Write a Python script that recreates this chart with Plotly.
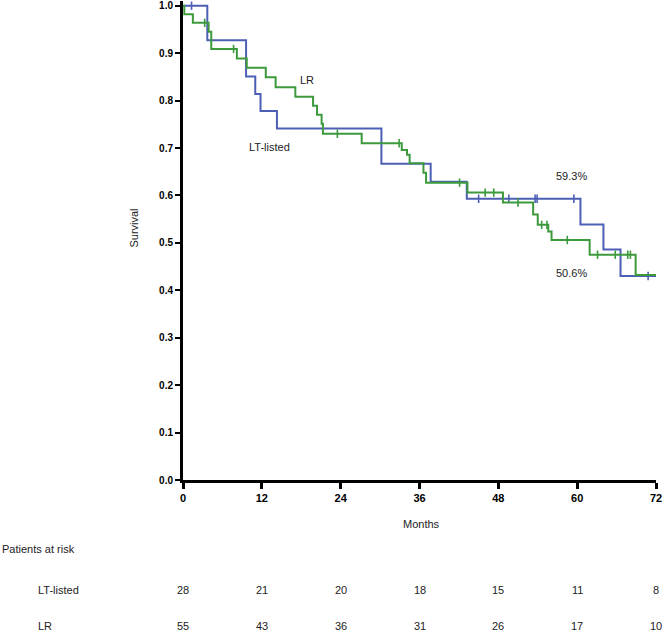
import numpy as np
import plotly.graph_objects as go

# ---- data ----
blue_t = [0, 3.7, 9.6, 11.0, 11.8, 14.3, 30.2, 37.7, 43.2, 60.5, 64.0, 66.6, 72]
blue_s = [1.0, 0.927, 0.851, 0.814, 0.778, 0.741, 0.667, 0.629, 0.593, 0.539, 0.486, 0.430, 0.430]
blue_censor = [1.3, 45.0, 49.6, 53.6, 53.9, 59.5, 70.8]

green_t = [0, 0.2, 1.5, 3.9, 4.3, 8.2, 9.7, 12.6, 14.1, 17.1, 19.8, 20.4, 21.1, 21.3, 27.2,
           33.3, 34.1, 34.5, 36.6, 37.0, 43.3, 48.7, 53.3, 54.0, 55.6, 56.1, 61.9, 68.9, 72]
green_s = [1.0, 0.982, 0.964, 0.945, 0.909, 0.889, 0.869, 0.849, 0.828, 0.808, 0.789, 0.770,
           0.751, 0.730, 0.710, 0.696, 0.686, 0.668, 0.648, 0.627, 0.606, 0.585, 0.560, 0.538,
           0.524, 0.506, 0.475, 0.432, 0.432]
green_censor = [3.3, 7.7, 23.5, 32.9, 42.1, 46.0, 47.3, 51.0, 54.6, 55.4, 58.5, 63.1, 65.8, 67.7, 68.1]

x_ticks = [0, 12, 24, 36, 48, 60, 72]
y_ticks = [0.0, 0.1, 0.2, 0.3, 0.4, 0.5, 0.6, 0.7, 0.8, 0.9, 1.0]
risk_lt = [28, 21, 20, 18, 15, 11, 8]
risk_lr = [55, 43, 36, 31, 26, 17, 10]

BLUE = "#4C5FB5"
GREEN = "#3C9A3C"
FONT = "Liberation Sans"


def step_at(ts, ss, x):
    idx = np.searchsorted(np.array(ts), np.array(x), side="right") - 1
    return list(np.array(ss)[idx])


fig = go.Figure()
for t, s, c, col, name in [(blue_t, blue_s, blue_censor, BLUE, "LT-listed"),
                           (green_t, green_s, green_censor, GREEN, "LR")]:
    fig.add_trace(go.Scatter(x=t, y=s, mode="lines", line=dict(color=col, width=2, shape="hv"),
                             name=name, showlegend=False))
    fig.add_trace(go.Scatter(x=c, y=step_at(t, s, c), mode="markers",
                             marker=dict(symbol="line-ns", size=6, line=dict(color=col, width=1.6)),
                             showlegend=False))

tf = dict(family=FONT, size=11, color="#222")
ann = []
ann.append(dict(x=18.9, y=0.844, xref="x", yref="y", text="LR", showarrow=False, font=tf))
ann.append(dict(x=13.1, y=0.703, xref="x", yref="y", text="LT-listed", showarrow=False, font=tf))
ann.append(dict(x=59.2, y=0.640, xref="x", yref="y", text="59.3%", showarrow=False, font=tf))
ann.append(dict(x=59.2, y=0.436, xref="x", yref="y", text="50.6%", showarrow=False, font=tf))
ann.append(dict(x=-0.1036, y=0.527, xref="paper", yref="paper", text="Survival", textangle=-90,
                xanchor="center", yanchor="middle", showarrow=False, font=tf))
ann.append(dict(x=36.3 / 72, y=-0.0919, xref="paper", yref="paper", text="Months",
                xanchor="center", yanchor="middle", showarrow=False, font=tf))
ann.append(dict(x=-0.387, y=-0.144, xref="paper", yref="paper", text="Patients at risk",
                xanchor="left", yanchor="middle", showarrow=False, font=tf))
ann.append(dict(x=-0.310, y=-0.2296, xref="paper", yref="paper", text="LT-listed",
                xanchor="left", yanchor="middle", showarrow=False, font=tf))
ann.append(dict(x=-0.310, y=-0.3048, xref="paper", yref="paper", text="LR",
                xanchor="left", yanchor="middle", showarrow=False, font=tf))
for xt, a, b in zip(x_ticks, risk_lt, risk_lr):
    ann.append(dict(x=xt / 72, y=-0.2296, xref="paper", yref="paper", text=str(a),
                    xanchor="center", yanchor="middle", showarrow=False, font=tf))
    ann.append(dict(x=xt / 72, y=-0.3048, xref="paper", yref="paper", text=str(b),
                    xanchor="center", yanchor="middle", showarrow=False, font=tf))

fig.update_layout(
    width=670, height=634,
    margin=dict(l=183, r=14, t=1, b=154),
    paper_bgcolor="white", plot_bgcolor="white",
    annotations=ann,
    xaxis=dict(range=[0, 72], tickvals=x_ticks, ticktext=[str(v) for v in x_ticks],
               showgrid=False, zeroline=False, showline=True, linecolor="black", linewidth=3,
               ticks="outside", ticklen=6, tickwidth=2.5, tickcolor="black",
               tickfont=dict(family=FONT, size=11, color="black", weight="bold")),
    yaxis=dict(range=[0, 1.01], tickvals=y_ticks, ticktext=[f"{v:.1f}" for v in y_ticks],
               showgrid=False, zeroline=False, showline=True, linecolor="black", linewidth=3,
               ticks="outside", ticklen=5, tickwidth=2, tickcolor="black",
               tickfont=dict(family=FONT, size=10, color="black", weight="bold")),
)

fig.write_html("out.html", config={"displayModeBar": False},
               post_script="document.body.style.margin='0';")
